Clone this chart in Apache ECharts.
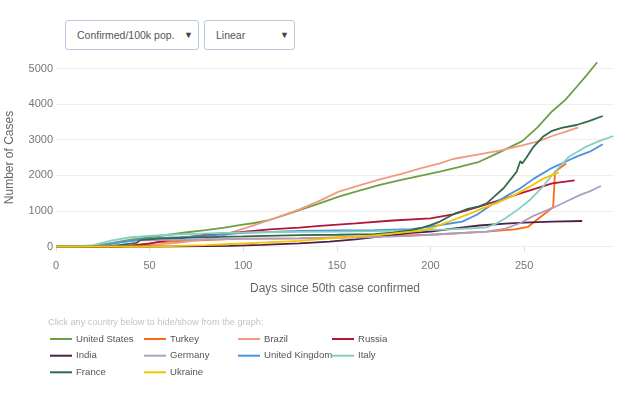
<!DOCTYPE html>
<html>
<head>
<meta charset="utf-8">
<script src="https://cdn.jsdelivr.net/npm/echarts@6/dist/echarts.min.js"></script>
<style>
  html, body { margin: 0; padding: 0; background: #fff; }
  #wrap { position: relative; width: 632px; height: 395px; overflow: hidden; }
  #chart { position: absolute; left: 0; top: 0; width: 632px; height: 395px; }
  .dd { position: absolute; top: 20px; height: 28px; border: 1px solid #bcc8dc; border-radius: 3px;
        font-family: "Liberation Sans", Arial, sans-serif; font-size: 10.5px; color: #555; line-height: 28px;
        box-sizing: content-box; background: #fff; z-index: 2; }
  .dd span.t { position: absolute; left: 11px; }
  .dd span.a { position: absolute; right: 5px; font-size: 9px; color: #444; }
</style>
</head>
<body>
<div id="wrap">
  <div id="chart"></div>
  <div class="dd" style="left:65px;width:132px;"><span class="t">Confirmed/100k pop.</span><span class="a">&#9660;</span></div>
  <div class="dd" style="left:204px;width:89px;"><span class="t">Linear</span><span class="a">&#9660;</span></div>
</div>
<script>
// ---- data (day since 50th case, confirmed per 100k pop.) ----
const countries = ['United States','Turkey','Brazil','Russia','India','Germany','United Kingdom','Italy','France','Ukraine'];
const colors = ['#6f9f45','#ff6a10','#f29b83','#b2163b','#4d2046','#ad9ec8','#4b93dc','#86cfc0','#2f6b48','#f5c400'];
const xTicks = [0,50,100,150,200,250];
const yTicks = [0,1000,2000,3000,4000,5000];

const unitedStates = [[0,0],[12,0],[20,20],[30,100],[40,190],[50,260],[60,330],[70,400],[80,460],[90,530],[98,600],[106,660],[114,744],[122,880],[130,1020],[140,1200],[151,1400],[162,1570],[173,1728],[185,1880],[195,1990],[205,2100],[215,2230],[226,2380],[237,2650],[249,2960],[257,3340],[265,3800],[272,4120],[278,4480],[284,4850],[289,5174]];
const turkey = [[0,0],[35,0],[45,60],[55,120],[66,155],[100,220],[130,230],[160,270],[200,330],[230,416],[245,480],[252,550],[258,800],[265.5,1101],[266.5,2101],[269,2200],[272.5,2330]];
const brazil = [[0,0],[35,0],[45,20],[55,60],[66,110],[75,170],[82,220],[89,300],[98,465],[106,600],[114,744],[122,890],[130,1044],[141,1290],[151,1540],[162,1720],[173,1887],[185,2050],[195,2200],[205,2337],[212,2458],[225,2580],[237,2690],[249,2840],[258,2960],[265,3104],[272,3220],[279,3348]];
const russia = [[0,0],[30,0],[40,20],[50,80],[60,180],[66,230],[80,330],[98,400],[114,483],[130,528],[141,580],[160,650],[180,730],[200,791],[212,900],[226,1118],[237,1306],[251,1540],[265,1774],[277,1860]];
const india = [[0,0],[50,0],[66,5],[80,12],[93,20],[110,45],[130,85],[146,135],[160,200],[175,290],[190,380],[200,420],[213,510],[226,590],[240,640],[250,670],[265,700],[281,716]];
const germany = [[0,0],[15,0],[25,40],[35,120],[45,170],[55,180],[66,190],[100,215],[130,230],[160,250],[190,300],[200,330],[230,416],[240,500],[248,660],[255,860],[265.5,1090],[272,1250],[280,1450],[285,1550],[291,1699]];
const unitedKingdom = [[0,0],[15,0],[25,30],[35,120],[45,200],[55,240],[66,260],[80,300],[100,380],[130,435],[150,450],[170,460],[190,490],[200,560],[212,660],[217,700],[225,900],[232,1150],[240,1400],[248,1635],[255,1900],[265,2210],[272,2380],[278,2523],[285,2663],[292,2871]];
const italy = [[0,0],[10,0],[20,40],[30,170],[40,260],[50,300],[60,330],[70,350],[90,380],[110,400],[130,410],[150,420],[170,430],[190,450],[210,480],[225,520],[230,538],[235,640],[240,791],[247,1050],[253,1306],[260,1680],[265,2008],[270,2300],[274,2523],[283,2803],[290,2960],[297.7,3104]];
const france = [[0,0],[20,0],[30,20],[40,80],[43,100],[45,180],[55,220],[66,240],[80,265],[100,285],[130,320],[150,330],[170,350],[180,390],[190,460],[195,520],[200,600],[205,700],[212,900],[220,1060],[226,1130],[230,1213],[234,1400],[239,1635],[243,1900],[246,2101],[248,2400],[249,2330],[251,2480],[255,2800],[260,3080],[265,3250],[270,3330],[278,3413],[285,3530],[292,3666]];
const ukraine = [[0,0],[50,0],[66,15],[80,40],[93,70],[110,110],[130,160],[146,230],[170,310],[194,440],[200,500],[212,744],[220,900],[228,1080],[235,1213],[245,1450],[253,1681],[260,1900],[268.5,2084]];

const seriesData = [unitedStates, turkey, brazil, russia, india, germany, unitedKingdom, italy, france, ukraine];

const chart = echarts.init(document.getElementById('chart'), null, {renderer: 'canvas'});
const axisFont = '"Liberation Sans", Arial, sans-serif';
const legendFont = '"Liberation Sans Narrow", "Arial Narrow", "Liberation Sans", sans-serif';

// legend: 4 columns, fixed grid positions
const legendCols = [50, 144, 238, 332];
const legendRows = [339, 355.7, 372.3];
const legends = countries.map((name, i) => ({
  data: [name],
  left: legendCols[i % 4],
  top: legendRows[Math.floor(i / 4)] - 7,
  padding: 0,
  itemWidth: 22, itemHeight: 2, icon: 'rect', itemGap: 0,
  textStyle: { fontFamily: legendFont, fontSize: 9.6, color: '#555', lineHeight: 14, padding: [0, 0, 0, -1] }
}));

chart.setOption({
  animation: false,
  color: colors,
  title: {
    text: 'Click any country below to hide/show from the graph:',
    left: 48, top: 317.5, padding: 0,
    textStyle: { fontFamily: legendFont, fontSize: 9.2, fontWeight: 'normal', color: '#c4c4c4' }
  },
  legend: legends,
  grid: { left: 56, right: 18, top: 68.5, bottom: 148.5, containLabel: false, outerBoundsMode: 'none' },
  xAxis: {
    type: 'value', min: 0, max: 298,
    name: 'Days since 50th case confirmed', nameLocation: 'middle', nameGap: 36,
    nameTextStyle: { fontFamily: axisFont, fontSize: 12, color: '#666' },
    axisLine: { show: false },
    axisTick: { show: true, length: 5, lineStyle: { color: '#ddd' }, customValues: xTicks },
    axisLabel: { fontFamily: axisFont, fontSize: 11, color: '#777', margin: 14, customValues: xTicks,
                 formatter: v => String(v) },
    splitLine: { show: false }
  },
  yAxis: {
    type: 'value', min: 0, max: 5000, interval: 1000,
    name: 'Number of Cases', nameLocation: 'middle', nameGap: 40, nameRotate: 90,
    nameTextStyle: { fontFamily: axisFont, fontSize: 12, color: '#666' },
    axisLine: { show: false },
    axisTick: { show: false },
    axisLabel: { fontFamily: axisFont, fontSize: 11, color: '#777', margin: 3, customValues: yTicks,
                 formatter: v => String(v) },
    splitLine: { show: true, lineStyle: { color: '#efefef', width: 1 } }
  },
  series: countries.map((name, i) => ({
    name: name,
    type: 'line',
    data: seriesData[i],
    symbol: 'none',
    clip: false,
    lineStyle: { width: 1.8, color: colors[i] },
    itemStyle: { color: colors[i] }
  }))
});
</script>
</body>
</html>
